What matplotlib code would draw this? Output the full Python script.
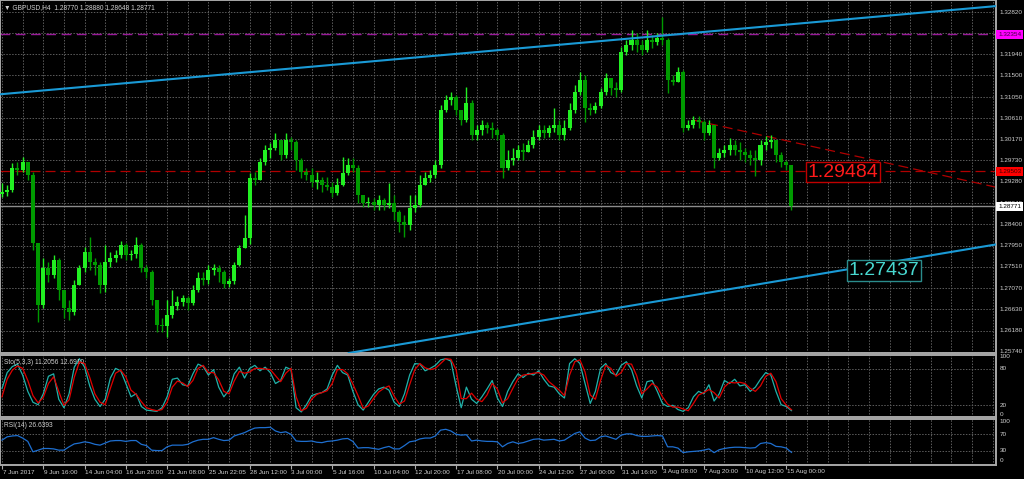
import numpy as np
import matplotlib
matplotlib.use('Agg')
import matplotlib.pyplot as plt
from matplotlib.transforms import blended_transform_factory

# GBPUSD H4 (one candle = 2 bars of H4)
first_open = 1.2903
close = np.array([
    1.2907, 1.2911, 1.2957, 1.2953, 1.2970, 1.2943, 1.2801, 1.2672, 1.2749, 1.2734,
    1.2766, 1.2703, 1.2666, 1.2657, 1.2714, 1.2749, 1.2782, 1.2761, 1.2755, 1.2714,
    1.2761, 1.2770, 1.2776, 1.2797, 1.2776, 1.2778, 1.2797, 1.2749, 1.2741, 1.2682,
    1.2630, 1.2628, 1.2651, 1.2670, 1.2678, 1.2686, 1.2676, 1.2703, 1.2728, 1.2724,
    1.2745, 1.2749, 1.2741, 1.2716, 1.2722, 1.2755, 1.2791, 1.2811, 1.2936, 1.2932,
    1.2970, 1.2995, 1.2999, 1.3015, 1.2984, 1.3015, 1.3011, 1.2974, 1.2949, 1.2943,
    1.2928, 1.2932, 1.2922, 1.2918, 1.2905, 1.2922, 1.2947, 1.2964, 1.2957, 1.2901,
    1.2884, 1.2886, 1.2880, 1.2891, 1.2880, 1.2884, 1.2866, 1.2845, 1.2838, 1.2874,
    1.2880, 1.2922, 1.2936, 1.2943, 1.2964, 1.3078, 1.3099, 1.3105, 1.3078, 1.3057,
    1.3093, 1.3026, 1.3036, 1.3047, 1.3040, 1.3036, 1.3026, 1.2957, 1.2974, 1.2978,
    1.2995, 1.2990, 1.3005, 1.3022, 1.3036, 1.3030, 1.3040, 1.3047, 1.3026, 1.3040,
    1.3078, 1.3115, 1.3140, 1.3082, 1.3078, 1.3086, 1.3115, 1.3145, 1.3124, 1.3120,
    1.3199, 1.3213, 1.3224, 1.3213, 1.3203, 1.3224, 1.3220, 1.3228, 1.3224, 1.3140,
    1.3136, 1.3157, 1.3040, 1.3047, 1.3057, 1.3053, 1.3030, 1.3047, 1.2978, 1.2988,
    1.2995, 1.3005, 1.2995, 1.2990, 1.2984, 1.2978, 1.2974, 1.3005, 1.3011, 1.3015,
    1.2984, 1.2970, 1.2964, 1.28771])
high = np.array([
    1.2926, 1.2922, 1.2968, 1.2970, 1.2980, 1.2964, 1.2949, 1.2801, 1.2770, 1.2761,
    1.2776, 1.2770, 1.2703, 1.2682, 1.2724, 1.2755, 1.2793, 1.2813, 1.2770, 1.2761,
    1.2797, 1.2782, 1.2786, 1.2805, 1.2801, 1.2786, 1.2813, 1.2801, 1.2755, 1.2745,
    1.2682, 1.2645, 1.2682, 1.2703, 1.2691, 1.2693, 1.2691, 1.2714, 1.2741, 1.2741,
    1.2755, 1.2757, 1.2755, 1.2745, 1.2728, 1.2761, 1.2797, 1.2859, 1.2947, 1.2949,
    1.2978, 1.3005, 1.3009, 1.3030, 1.3015, 1.3030, 1.3022, 1.3015, 1.2978, 1.2957,
    1.2957, 1.2949, 1.2938, 1.2938, 1.2928, 1.2936, 1.2980, 1.2978, 1.2978, 1.2964,
    1.2901, 1.2897, 1.2895, 1.2901, 1.2895, 1.2926, 1.2901, 1.2870, 1.2859, 1.2901,
    1.2901, 1.2943, 1.2949, 1.2953, 1.2974, 1.3088, 1.3109, 1.3115, 1.3109, 1.3078,
    1.3126, 1.3099, 1.3047, 1.3057, 1.3053, 1.3053, 1.3040, 1.3030, 1.2995, 1.2999,
    1.3005, 1.3009, 1.3015, 1.3036, 1.3047, 1.3047, 1.3047, 1.3082, 1.3057, 1.3057,
    1.3093, 1.3130, 1.3157, 1.3151, 1.3093, 1.3095, 1.3124, 1.3155, 1.3145, 1.3136,
    1.3209, 1.3224, 1.3245, 1.3238, 1.3224, 1.3245, 1.3234, 1.3238, 1.3272, 1.3228,
    1.3151, 1.3167, 1.3161, 1.3057, 1.3065, 1.3065, 1.3057, 1.3057, 1.3047, 1.2999,
    1.3005, 1.3020, 1.3015, 1.3011, 1.2999, 1.2995, 1.2995, 1.3015, 1.3024, 1.3026,
    1.3015, 1.2990, 1.2974, 1.2964])
low = np.array([
    1.2897, 1.2899, 1.2907, 1.2943, 1.2949, 1.2932, 1.2786, 1.2637, 1.2666, 1.2720,
    1.2728, 1.2682, 1.2645, 1.2641, 1.2651, 1.2714, 1.2741, 1.2745, 1.2734, 1.2697,
    1.2699, 1.2751, 1.2761, 1.2770, 1.2766, 1.2766, 1.2770, 1.2741, 1.2728, 1.2672,
    1.2616, 1.2616, 1.2605, 1.2645, 1.2662, 1.2670, 1.2662, 1.2672, 1.2699, 1.2714,
    1.2716, 1.2734, 1.2720, 1.2707, 1.2709, 1.2716, 1.2753, 1.2791, 1.2799, 1.2922,
    1.2932, 1.2964, 1.2978, 1.2995, 1.2974, 1.2978, 1.2995, 1.2953, 1.2936, 1.2932,
    1.2918, 1.2913, 1.2907, 1.2911, 1.2897, 1.2901, 1.2920, 1.2943, 1.2949, 1.2884,
    1.2876, 1.2876, 1.2870, 1.2870, 1.2870, 1.2874, 1.2849, 1.2824, 1.2813, 1.2828,
    1.2866, 1.2876, 1.2922, 1.2928, 1.2936, 1.2957, 1.3074, 1.3088, 1.3068, 1.3047,
    1.3053, 1.3015, 1.3015, 1.3026, 1.3030, 1.3020, 1.3015, 1.2936, 1.2953, 1.2964,
    1.2974, 1.2974, 1.2990, 1.2999, 1.3015, 1.3020, 1.3022, 1.3032, 1.3015, 1.3015,
    1.3036, 1.3072, 1.3109, 1.3053, 1.3068, 1.3072, 1.3082, 1.3110, 1.3109, 1.3105,
    1.3115, 1.3192, 1.3203, 1.3199, 1.3192, 1.3199, 1.3207, 1.3213, 1.3213, 1.3113,
    1.3130, 1.3136, 1.3032, 1.3036, 1.3040, 1.3040, 1.3015, 1.3026, 1.2957, 1.2974,
    1.2980, 1.2984, 1.2984, 1.2974, 1.2970, 1.2964, 1.2941, 1.2964, 1.2995, 1.2999,
    1.2970, 1.2959, 1.2953, 1.2870])

# Stochastic(5,3,3): %K (main) and %D (signal)
sto_k = [48, 74, 84, 88, 70, 43, 25, 21, 39, 68, 72, 30, 16, 39, 83, 97, 83, 52, 30, 18,
         30, 65, 81, 77, 56, 34, 39, 18, 12, 11, 10, 16, 34, 63, 65, 54, 52, 72, 88, 84,
         70, 79, 50, 34, 45, 72, 83, 65, 81, 86, 77, 83, 74, 56, 61, 83, 79, 16, 9, 21,
         36, 39, 41, 47, 70, 86, 74, 70, 43, 21, 12, 25, 38, 47, 50, 45, 25, 18, 39, 70,
         89, 88, 77, 81, 86, 95, 97, 93, 52, 16, 50, 30, 23, 34, 47, 61, 32, 18, 43, 59,
         72, 66, 73, 70, 77, 63, 52, 50, 39, 32, 89, 97, 89, 56, 23, 43, 81, 89, 74, 70,
         86, 92, 79, 52, 32, 59, 61, 43, 23, 18, 20, 13, 10, 16, 34, 43, 39, 54, 27, 39,
         61, 56, 63, 52, 54, 43, 50, 63, 74, 70, 43, 21, 18, 11.21]
sto_d = [34, 63, 78, 85, 81, 61, 36, 24, 33, 56, 67, 43, 20, 29, 66, 92, 89, 66, 39, 25,
         21, 48, 73, 78, 67, 45, 38, 26, 16, 13, 11, 13, 25, 50, 60, 57, 51, 61, 81, 86,
         74, 74, 62, 43, 39, 60, 76, 73, 75, 81, 81, 80, 79, 69, 59, 73, 81, 34, 11, 15,
         30, 38, 41, 44, 56, 79, 79, 72, 55, 36, 15, 19, 31, 42, 48, 52, 35, 22, 27, 54,
         79, 89, 82, 79, 81, 89, 97, 96, 79, 31, 31, 40, 30, 26, 37, 56, 47, 24, 31, 48,
         64, 70, 71, 73, 74, 70, 59, 52, 45, 36, 70, 92, 95, 75, 37, 30, 61, 86, 81, 68,
         74, 89, 88, 69, 39, 47, 56, 50, 34, 22, 17, 17, 14, 11, 23, 37, 41, 46, 41, 32,
         50, 58, 57, 58, 56, 48, 43, 52, 68, 73, 59, 31, 20, 12.69]

# RSI(14)
rsi = [56, 64, 66, 67, 61, 53, 28, 32, 36, 36, 35, 32, 32, 40, 47, 49, 52, 50, 46, 44,
       49, 54, 55, 55, 53, 55, 55, 46, 43, 32, 31, 31, 40, 44, 44, 44, 46, 52, 56, 58,
       58, 62, 58, 55, 56, 66, 70, 74, 80, 85, 86, 86, 87, 78, 74, 76, 70, 54, 53, 53,
       54, 51, 50, 53, 54, 56, 59, 60, 53, 37, 38, 38, 36, 34, 38, 41, 35, 35, 43, 52,
       54, 59, 61, 61, 66, 80, 82, 78, 70, 68, 69, 54, 56, 54, 53, 53, 52, 40, 48, 52,
       48, 50, 54, 58, 59, 56, 57, 58, 54, 56, 64, 72, 76, 61, 55, 56, 64, 66, 62, 58,
       68, 71, 71, 67, 65, 65, 66, 67, 66, 40, 40, 37, 26, 28, 29, 30, 32, 35, 26, 33,
       36, 38, 39, 39, 38, 37, 38, 48, 50, 48, 41, 40, 37, 26.64]

price_ticks = [1.32820, 1.32380, 1.31940, 1.31500, 1.31050, 1.30610, 1.30170, 1.29730,
               1.29280, 1.28840, 1.28400, 1.27950, 1.27510, 1.27070, 1.26630, 1.26180, 1.25740]
date_labels = ['7 Jun 2017', '9 Jun 16:00', '14 Jun 04:00', '16 Jun 20:00', '21 Jun 08:00',
               '25 Jun 22:05', '28 Jun 12:00', '3 Jul 00:00', '5 Jul 16:00', '10 Jul 04:00',
               '12 Jul 20:00', '17 Jul 08:00', '20 Jul 00:00', '24 Jul 12:00', '27 Jul 00:00',
               '31 Jul 16:00', '3 Aug 08:00', '7 Aug 20:00', '10 Aug 12:00', '15 Aug 00:00']
date_pos = np.arange(0, 160, 8)

# levels and trendlines (bar index, price)
magenta_level = 1.32354
red_level = 1.29503
bid = 1.28771
upper_channel = [(0, 1.31110), (120, 1.32252)]
lower_channel = [(100, 1.26310), (180, 1.27752)]
red_trend = [(134, 1.30569), (180, 1.29473)]
label_red = (163, 1.29484)
label_blue = (171, 1.27437)

# ---------------------------------------------------------------
W, H = 1024, 479
FONT = 'Liberation Sans'
TXT = '#d0d0d0'
GRID = '#5c5c5c'
BULL, BEAR = '#22f022', '#009a00'

fig = plt.figure(figsize=(W / 100, H / 100), dpi=100, facecolor='black')


def panel(top, bottom):
    a = fig.add_axes([0, 1 - bottom / H, 996 / W, (bottom - top) / H])
    a.set_facecolor('black')
    a.set_xlim(-0.388, 192.64)
    for s in a.spines.values():
        s.set_color('#a8a8a8')
        s.set_linewidth(1.4)
    a.tick_params(left=False, right=False, top=False, bottom=False,
                  labelleft=False, labelbottom=False)
    for xg in range(0, 193, 4):
        a.axvline(xg, color=GRID, lw=0.7, ls=(0, (1.5, 1.5)), zorder=0)
    return a


ax = panel(0, 353)
ax_sto = panel(355, 417)
ax_rsi = panel(419, 465)

# ---- price panel
ax.set_ylim(1.25719, 1.33070)
for p in price_ticks:
    ax.axhline(p, color=GRID, lw=0.7, ls=(0, (1.5, 1.5)), zorder=0)
    ax.text(1.003, p, f'{p:.5f}', transform=ax.get_yaxis_transform(), color=TXT,
            fontsize=4.6, family=FONT, va='center', ha='left', clip_on=False)

idx = np.arange(len(close))
opn = np.r_[first_open, close[:-1]]
cols = np.where(close >= opn, BULL, BEAR)
ax.vlines(idx, low, high, colors=cols, lw=1.0, zorder=3)
ax.bar(idx, np.abs(close - opn), bottom=np.minimum(opn, close), width=0.78,
       color=cols, lw=0, zorder=4)

ax.axhline(magenta_level, color='#9a1a9a', lw=1.0, ls=(0, (7, 4)), zorder=2)
ax.axhline(red_level, color='#b00000', lw=0.9, ls=(0, (8, 4)), zorder=2)
ax.axhline(bid, color='#8c8c8c', lw=1.0, zorder=2)

ax.axline(*upper_channel, color='#1a9ad6', lw=1.5, zorder=5)
ax.axline(*lower_channel, color='#1a9ad6', lw=1.5, zorder=5)
(j1, p1), (j2, p2) = red_trend
x_end = 193
ax.plot([j1, x_end], [p1, p1 + (p2 - p1) / (j2 - j1) * (x_end - j1)],
        color='#b00000', lw=0.9, ls=(0, (8, 4)), zorder=2)

ax.text(*label_red, '1.29484', color='#ff1a1a', fontsize=14, family=FONT,
        ha='center', va='center', zorder=6,
        bbox=dict(boxstyle='square,pad=0.08', fc='black', ec='#c00000', lw=1))
ax.text(*label_blue, '1.27437', color='#48d8d0', fontsize=14, family=FONT,
        ha='center', va='center', zorder=6,
        bbox=dict(boxstyle='square,pad=0.08', fc='black', ec='#2a8c8c', lw=1))

for lvl, fc, tc in [(magenta_level, '#ff00ff', '#400040'),
                    (red_level, '#ff0000', '#400000'),
                    (bid, '#ffffff', '#000000')]:
    ax.text(1.002, lvl, f'{lvl:.5f}', transform=ax.get_yaxis_transform(), color=tc,
            fontsize=4.6, family=FONT, va='center', ha='left', clip_on=False, zorder=10,
            bbox=dict(boxstyle='square,pad=0.35', fc=fc, ec='none'))

ax.text(0.004, 0.988, '\u25bc GBPUSD,H4  1.28770 1.28880 1.28648 1.28771',
        transform=ax.transAxes, color=TXT, fontsize=4.8, family=[FONT, 'DejaVu Sans'],
        va='top', ha='left')

# ---- stochastic panel
ax_sto.set_ylim(0.66, 103.1)
for lv in (80, 20):
    ax_sto.axhline(lv, color=GRID, lw=0.7, ls=(0, (1.5, 1.5)), zorder=0)
ax_sto.plot(idx, sto_k, color='#20b2aa', lw=0.9, zorder=3)
ax_sto.plot(idx, sto_d, color='#e00000', lw=0.9, zorder=4)
for lv, va in [(100, 'center'), (80, 'center'), (20, 'center'), (0, 'bottom')]:
    ax_sto.text(1.004, lv, str(lv), transform=ax_sto.get_yaxis_transform(), color=TXT,
                fontsize=4.6, family=FONT, va=va, ha='left', clip_on=False)
ax_sto.text(0.004, 0.94, 'Sto(5,3,3) 11.2056 12.6910', transform=ax_sto.transAxes,
            color=TXT, fontsize=4.8, family=FONT, va='top', ha='left')

# ---- RSI panel
ax_rsi.set_ylim(-3.6, 106.7)
for lv in (70, 30):
    ax_rsi.axhline(lv, color=GRID, lw=0.7, ls=(0, (1.5, 1.5)), zorder=0)
ax_rsi.plot(idx, rsi, color='#1e6fd0', lw=0.9, zorder=3)
for lv, va in [(100, 'center'), (70, 'center'), (30, 'center'), (0, 'bottom')]:
    ax_rsi.text(1.004, lv, str(lv), transform=ax_rsi.get_yaxis_transform(), color=TXT,
                fontsize=4.6, family=FONT, va=va, ha='left', clip_on=False)
ax_rsi.text(0.004, 0.93, 'RSI(14) 26.6393', transform=ax_rsi.transAxes,
            color=TXT, fontsize=4.8, family=FONT, va='top', ha='left')

# date axis
ax_rsi.set_xticks(date_pos)
ax_rsi.tick_params(bottom=True, direction='out', length=3, width=0.8, color='#a8a8a8')
tr = blended_transform_factory(ax_rsi.transData, fig.transFigure)
for pos, lab in zip(date_pos, date_labels):
    ax_rsi.text(pos + 0.1, 1 - 472 / H, lab, transform=tr, color=TXT, fontsize=4.6,
                family=FONT, va='center', ha='left', clip_on=False)

fig.savefig('out.png', dpi=100, facecolor='black')
